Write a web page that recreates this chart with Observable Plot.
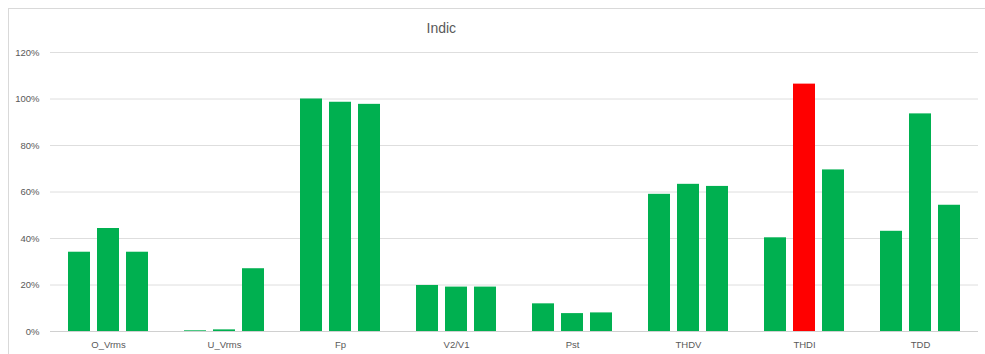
<!DOCTYPE html>
<html>
<head>
<meta charset="utf-8">
<script src="https://cdn.jsdelivr.net/npm/d3@7"></script>
<script src="https://cdn.jsdelivr.net/npm/@observablehq/plot@0.6"></script>
<style>
  html, body { margin: 0; padding: 0; background: #fff; }
  #wrap { position: relative; width: 985px; height: 354px; overflow: hidden; }
  #frame { position: absolute; left: 8px; top: 8px; right: -2px; bottom: -2px;
           border-top: 1px solid #d9d9d9; border-left: 1px solid #d9d9d9; }
  #chart { position: absolute; left: 0; top: 0; }
  svg { font-family: "Liberation Sans", Arial, sans-serif; }
</style>
</head>
<body>
<div id="wrap"><div id="frame"></div><div id="chart"></div></div>
<script>
// Indicator categories and the three measured values (fraction of limit)
const categories = ["O_Vrms", "U_Vrms", "Fp", "V2/V1", "Pst", "THDV", "THDI", "TDD"];
const series1 = [0.341, 0.003, 1.000, 0.198, 0.119, 0.590, 0.403, 0.431];
const series2 = [0.443, 0.007, 0.986, 0.191, 0.077, 0.633, 1.064, 0.936];
const series3 = [0.341, 0.270, 0.977, 0.191, 0.080, 0.624, 0.695, 0.543];
const yTicks = [0, 0.2, 0.4, 0.6, 0.8, 1.0, 1.2];
const titleText = "Indic";

const rows = [];
categories.forEach((c, i) => {
  [series1, series2, series3].forEach((s, k) => {
    rows.push({category: c, series: k, value: s[i]});
  });
});

// values above the limit are flagged red
const fillFor = d => d.value > 1 ? "#ff0000" : "#00b050";

const chart = Plot.plot({
  width: 985,
  height: 354,
  marginLeft: 49,
  marginRight: 7,
  marginTop: 52,
  marginBottom: 23,
  style: {fontSize: "9.5px", color: "#595959", background: "transparent"},
  fx: {domain: categories, padding: 0, label: null},
  x: {domain: [0, 1, 2], paddingInner: 0.233, paddingOuter: 0.55, axis: null},
  y: {domain: [0, 1.2], label: null},
  marks: [
    Plot.ruleY(yTicks, {stroke: d => d === 0 ? "#d0d0d0" : "#dedede"}),
    Plot.barY(rows, {fx: "category", x: "series", y: "value", fill: fillFor}),
    Plot.axisY({ticks: yTicks, tickFormat: d3.format(".0%"), tickSize: 0, tickPadding: 11, label: null, fill: "#595959"}),
    Plot.axisFx({anchor: "bottom", tickSize: 0, tickPadding: 10, label: null, fill: "#595959"}),
    Plot.text([titleText], {
      text: d => d, frameAnchor: "top-left", facet: "super",
      dx: 376, dy: -24, textAnchor: "start", lineAnchor: "middle",
      fontSize: 14, fill: "#595959", fontFamily: "Liberation Sans Narrow, Liberation Sans, sans-serif"
    })
  ]
});
document.getElementById("chart").appendChild(chart);
</script>
</body>
</html>
